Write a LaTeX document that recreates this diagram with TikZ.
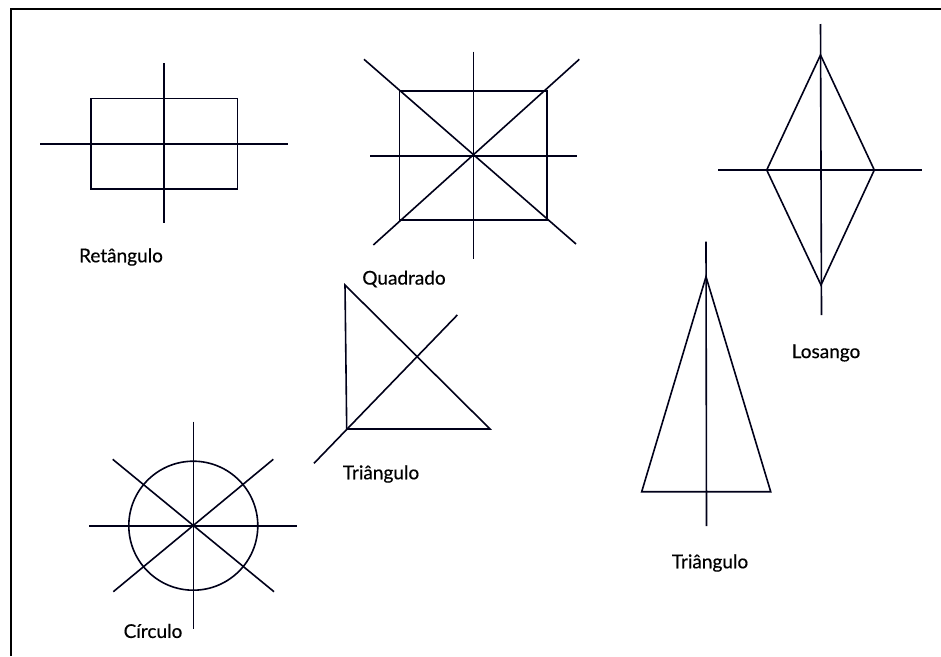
\documentclass[tikz,border=0pt]{standalone}
\usepackage{fontspec}
\setmainfont{Lato}
\newfontfamily\lblfont{Lato}[FakeBold=0.4]
\begin{document}
\begin{tikzpicture}[x=1pt,y=-1pt,
  fig/.style={line width=1.6pt, black!90!blue},
  frame/.style={line width=2.2pt, black},
  lbl/.style={font=\lblfont\fontsize{19}{22}\selectfont, inner sep=0pt, text=black}]
\useasboundingbox (0,0) rectangle (941,656);
\fill[white] (0,0) rectangle (941,656);
% frame
\draw[frame] (11,656) -- (11,9) -- (941,9);
% Rectangle
\draw[fig] (90.7,98.3) rectangle (237.3,189);
\draw[fig] (164,63) -- (164,223);
\draw[fig] (40,143.7) -- (288,143.7);
\node[lbl] (ret) at (121,257) {Retângulo};
% Square
\draw[fig] (399.3,91) rectangle (546.7,220);
\draw[fig] (473.3,51.7) -- (473.3,259);
\draw[fig] (370,155.7) -- (576.7,155.7);
\draw[fig] (364,59.3) -- (576,244);
\draw[fig] (579.3,59.3) -- (373.3,245);
\node[lbl] (quad) at (404,279) {Quadrado};
% Rhombus
\draw[fig] (820.5,55) -- (874.3,170) -- (821,285) -- (766.7,170) -- cycle;
\draw[fig] (820.5,24) -- (821.5,315);
\draw[fig] (718,170) -- (921.7,170);
\node[lbl] (los) at (826,353) {Losango};
% Right triangle
\draw[fig] (345,285) -- (346.7,429) -- (490,429) -- cycle;
\draw[fig] (314,463.3) -- (457.3,315);
\node[lbl] (tri1) at (381,474) {Triângulo};
% Isosceles triangle
\draw[fig] (706,276.7) -- (770.7,491.7) -- (641.7,491.7) -- cycle;
\draw[fig] (706,241.7) -- (706.5,526);
\node[lbl] (tri2) at (710,563) {Triângulo};
% Circle
\draw[fig] (193.3,525.7) circle[radius=64.5];
\draw[fig] (193.3,421.7) -- (193.3,629.3);
\draw[fig] (89.3,525.7) -- (297.3,525.7);
\draw[fig] (112.7,459.3) -- (274,591.7);
\draw[fig] (273.3,459.3) -- (113.3,591.7);
\node[lbl] (circ) at (153,631) {Círculo};
\end{tikzpicture}
\end{document}
